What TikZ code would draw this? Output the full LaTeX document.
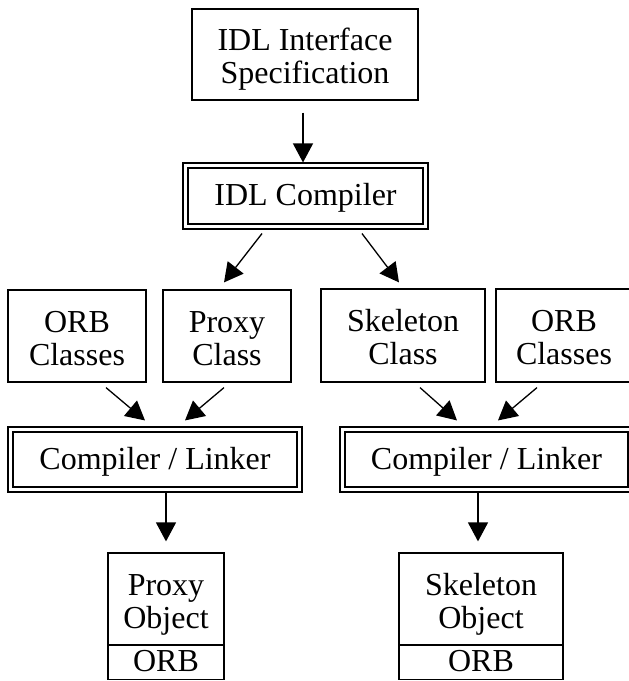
\documentclass[tikz,border=0pt]{standalone}
\usepackage{fontspec}
\setmainfont{Liberation Serif}
\usetikzlibrary{arrows.meta,calc}
\newcommand{\fsz}{\fontsize{32}{33}\selectfont}
\begin{document}
\begin{tikzpicture}[x=1pt,y=-1pt,
  box/.style={draw, line width=1.2pt, align=center, inner sep=0pt, font=\fsz},
  one/.style={text height=27pt, text depth=8pt},
  two/.style={text height=62pt, text depth=4pt},
  dbox/.style={box, one, line width=1.1pt,
    path picture={\draw[line width=2.2pt]
      ([shift={(5pt,5pt)}]path picture bounding box.south west) rectangle
      ([shift={(-5pt,-5pt)}]path picture bounding box.north east);}},
  arr/.style={line width=1.3pt, -{Triangle[length=19pt,width=20pt]}}]
\useasboundingbox (0,0) rectangle (629,681);
\clip (0,0) rectangle (629,681);
% nodes
\node[box, two, minimum width=226, minimum height=91] (top) at (305,54.5) {IDL Interface\\Specification};
\node[dbox, minimum width=245, minimum height=66] (idlc) at (305.5,196) {IDL Compiler};
\node[box, two, minimum width=138, minimum height=92] (orbL) at (77,336) {ORB\\Classes};
\node[box, two, minimum width=128, minimum height=92] (proxyC) at (227,336) {Proxy\\Class};
\node[box, two, minimum width=164, minimum height=93] (skelC) at (403,335.5) {Skeleton\\Class};
\node[box, two, minimum width=136, minimum height=93] (orbR) at (564,335.5) {ORB\\Classes};
\node[dbox, minimum width=294, minimum height=65] (clL) at (155,459.5) {Compiler / Linker};
\node[dbox, minimum width=293, minimum height=65] (clR) at (486.5,459.5) {Compiler / Linker};
\node[box, two, minimum width=116, minimum height=92] (pobj) at (166,599) {Proxy\\Object};
\node[box, one, minimum width=116, minimum height=34] (porb) at (166,662) {ORB};
\node[box, two, minimum width=164, minimum height=92] (sobj) at (481,599) {Skeleton\\Object};
\node[box, one, minimum width=164, minimum height=34] (sorb) at (481,662) {ORB};
% connectors
\draw[arr] ($(top.south)+(-2,12)$) -- ($(idlc.north)+(-2.5,0)$);
\draw[arr] ($(idlc.south)+(-43.5,4)$) -- ($(proxyC.north)+(-3,-7)$);
\draw[arr] ($(idlc.south)+(56.5,4)$) -- ($(skelC.north)+(-4,-6)$);
\draw[arr] ($(orbL.south)+(29,5)$) -- ($(clL.north)+(-10,-6)$);
\draw[arr] ($(proxyC.south)+(-3,5)$) -- ($(clL.north)+(30,-6)$);
\draw[arr] ($(skelC.south)+(17,5)$) -- ($(clR.north)+(-29.5,-6)$);
\draw[arr] ($(orbR.south)+(-27,5)$) -- ($(clR.north)+(11.5,-6)$);
\draw[arr] ($(clL.south)+(11,0)$) -- ($(pobj.north)+(0,-11)$);
\draw[arr] ($(clR.south)+(-8.5,0)$) -- ($(sobj.north)+(-3,-11)$);
\end{tikzpicture}
\end{document}
